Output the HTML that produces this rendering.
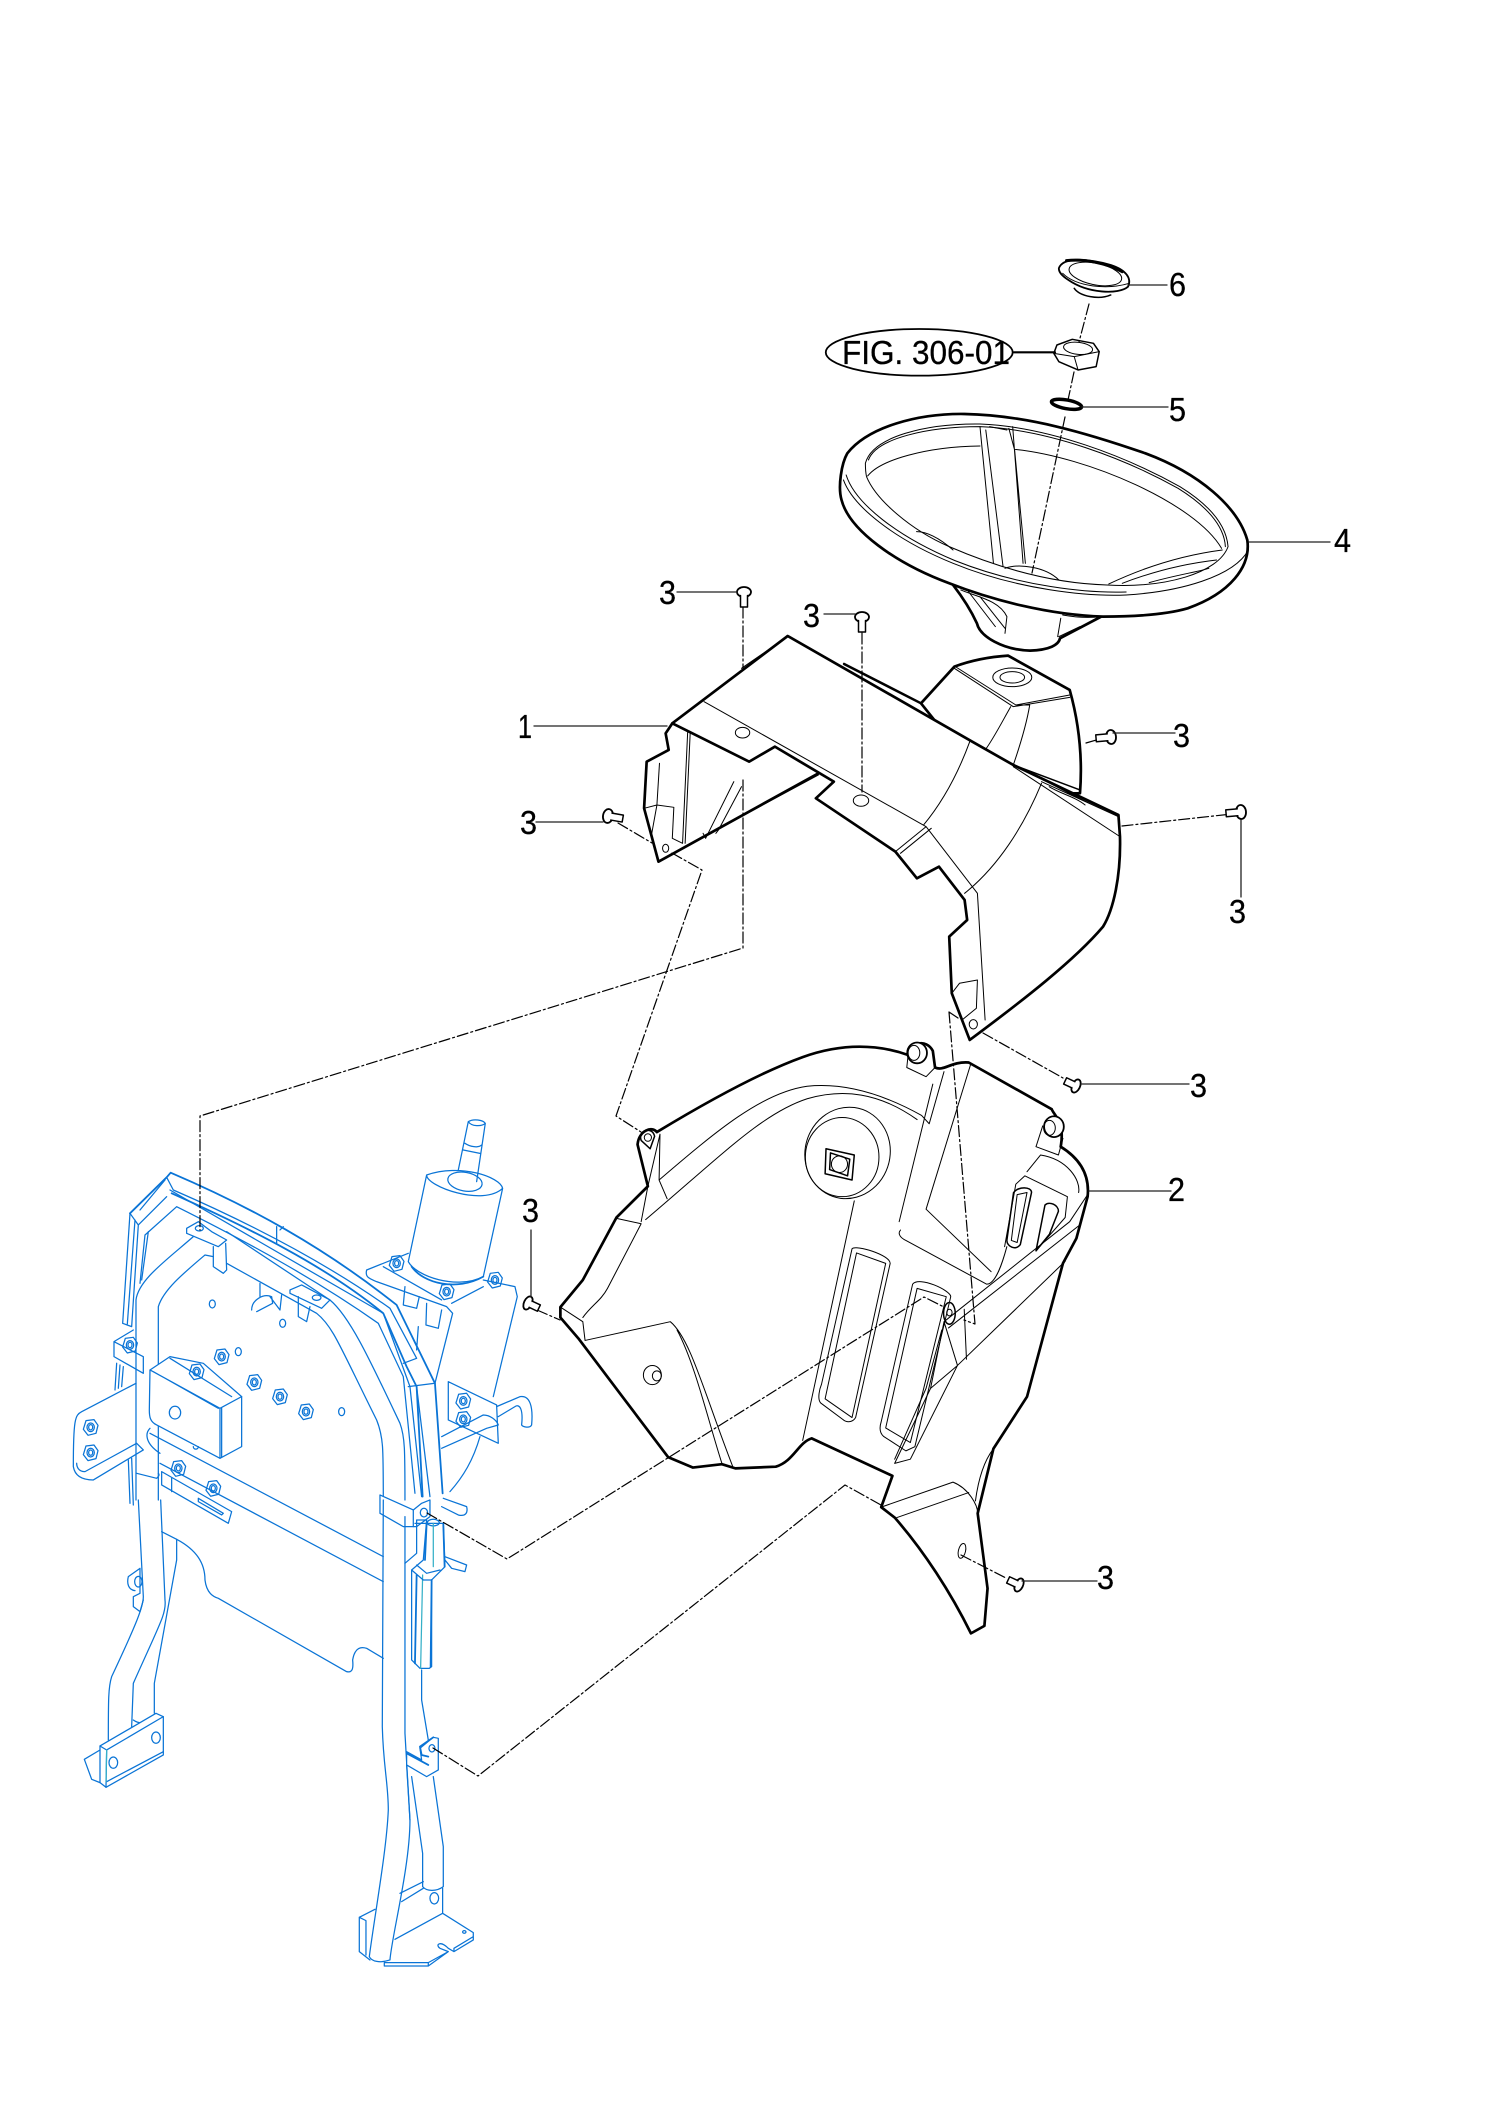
<!DOCTYPE html>
<html><head><meta charset="utf-8"><style>
html,body{margin:0;padding:0;background:#fff}
svg{display:block}
svg *{vector-effect:non-scaling-stroke;stroke-linejoin:round;stroke-linecap:round}
.k path,.k ellipse,.k circle,.k polygon{fill:none;stroke:#000;stroke-width:1}
.k .o{fill:#fff;stroke-width:2.7}
.k .m{stroke-width:1.5}
.k .w{fill:#fff}
.b path,.b ellipse,.b polygon,.b use{fill:none;stroke:#0a74d6;stroke-width:1.25}
.b .f{fill:#fff}
.b .t{stroke-width:1.8}
.b .c{stroke:#35b0c8}
.d{fill:none;stroke:#000;stroke-width:1.2;stroke-dasharray:11 3 2 3}
.l{fill:none;stroke:#222;stroke-width:1.3}
text{font-family:"Liberation Sans",sans-serif;fill:#000;font-size:33px;stroke:#000;stroke-width:.3}
</style></head><body>
<svg width="1500" height="2123" viewBox="0 0 1500 2123" xmlns="http://www.w3.org/2000/svg">
<defs>
<g id="n"><polygon points="-14,-20 10,-23 22,-6 16,18 -8,24 -22,6"/><ellipse rx="11" ry="13"/><ellipse rx="6" ry="8"/></g>
<g id="s"><ellipse cx="0" cy="0" rx="7" ry="5" fill="#fff" stroke="#000" stroke-width="1.8"/><path d="M-3.5,3.5 L-3.5,15 L3.5,15 L3.5,3.5" fill="#fff" stroke="#000" stroke-width="1.5"/></g>
</defs>

<!-- blue frame upper -->
<g class="b" transform="translate(50,1100) scale(.3333)">
<path class="f" d="M1130,225 L1075,485 C1100,530 1220,570 1300,530 L1358,265 C1350,230 1230,190 1130,225 C1130,260 1300,320 1358,265"/>
<path d="M1225,210 L1255,65 C1270,55 1300,60 1306,70 L1280,245 M1255,65 C1265,80 1295,80 1306,70 M1245,130 C1260,140 1285,145 1295,135 M1240,150 L1290,160"/>
<ellipse cx="1245" cy="245" rx="52" ry="28" transform="rotate(10 1245 245)"/>
<path class="t" d="M1085,500 C1120,550 1220,575 1300,530"/>
<path d="M950,510 C945,530 955,535 980,545 L1190,620 L1208,640 L1155,850 M950,510 L1075,460 M1000,500 L1175,600 M1300,540 L1395,560 L1402,590 L1330,890 M1205,610 L1300,560 M1065,560 L1060,615 L1100,625 L1108,590 M1130,610 L1128,675 L1165,685 L1175,630 M1105,680 L1100,750"/>
<path d="M1340,920 L1410,890 C1440,885 1450,920 1445,975 C1440,985 1420,982 1415,975 C1420,930 1410,910 1395,920 L1345,950 M1195,845 L1340,915 L1345,1030 L1195,960 Z M1175,1010 L1300,945 C1320,945 1340,960 1345,975 L1310,985 L1175,1045 M1290,1010 C1270,1080 1240,1130 1200,1175 M1180,1195 L1250,1220 C1255,1240 1245,1250 1225,1245 L1175,1220"/>
<use href="#n" x="1040" y="490"/><use href="#n" x="1190" y="575"/><use href="#n" x="1335" y="540"/><use href="#n" x="1240" y="903"/><use href="#n" x="1240" y="958"/>
<path d="M258,1200 L258,600 C265,540 350,480 430,410 M325,1200 L325,620 C340,570 400,520 465,465 L490,470 M530,490 L800,640 C850,680 870,740 980,960 C1000,1010 1000,1040 1000,1200 M530,395 L840,600 C900,650 960,780 1050,970 C1065,1010 1065,1050 1065,1200"/>
<path class="t" d="M240,340 L350,232 L362,218 C600,320 820,440 1040,615 L1155,850 L1178,1180"/>
<path d="M350,232 L370,270 C600,370 830,490 1020,625 L1100,775 M240,340 L218,670 L245,680 M265,375 L245,680 M240,340 L265,375 L350,290 M285,405 L380,320 C600,430 800,540 985,670 L1060,830 L1095,1180 M295,395 L275,540 M285,405 L270,550 M360,270 L1000,640 L1080,860 L1115,1190 M1100,775 L1060,790 M1075,860 L1155,850 M1100,860 L1140,1190 M255,360 L232,672 M345,240 L270,330"/>
<path class="t" d="M365,280 C600,385 830,500 1000,640 L1070,800 L1100,860 L1118,1190"/>
<path d="M680,380 L680,430 M690,390 L700,380"/>
<path class="f" d="M300,810 L360,770 L460,790 L575,890 L575,1040 L510,1075 L320,975 C300,965 298,950 298,930 Z"/>
<path d="M300,810 L510,925 L575,890 M510,925 L510,1075 M515,925 L515,1070 M310,815 L505,925 M360,775 L545,890 M430,1040 C430,1050 445,1050 445,1040"/>
<ellipse cx="375" cy="938" rx="17" ry="19"/>
<use href="#n" x="440" y="815"/><use href="#n" x="515" y="770"/><use href="#n" x="613" y="847"/><use href="#n" x="690" y="890"/><use href="#n" x="768" y="935"/><use href="#n" x="122" y="982"/><use href="#n" x="122" y="1058"/><use href="#n" x="385" y="1105"/><use href="#n" x="490" y="1165"/><use href="#n" x="240" y="735"/>
<ellipse cx="487" cy="612" rx="9" ry="12"/><ellipse cx="698" cy="670" rx="9" ry="12"/><ellipse cx="565" cy="755" rx="9" ry="12"/><ellipse cx="875" cy="935" rx="9" ry="12"/>
<path d="M258,850 L95,935 C75,945 70,960 70,1100 C75,1130 100,1140 130,1140 L280,1050 L260,1030 L105,1115 C85,1115 80,1100 80,1090 M192,725 L250,690 M192,725 L192,770 L280,820 L280,770 Z M200,790 L195,870 M210,795 L205,865 M220,800 L215,860 M235,1080 L240,1210 M245,1075 L250,1215 M260,1120 L320,1135 C325,1130 330,1125 325,1120"/>
<path d="M300,1000 L1000,1370 M330,1090 L1000,1445 M300,985 C285,1000 285,1030 330,1060"/>
<path class="f" d="M410,385 L445,365 L485,395 L530,420 L505,440 L410,400 Z"/>
<path d="M490,440 L490,500 L520,520 L530,510 L527,430 M720,570 L755,555 L840,600 L815,625 L720,580 Z M745,590 L745,650 L770,665 L780,620 M630,550 L630,590 M605,630 C605,600 640,580 665,590 L668,610 L620,635 M690,630 L695,585 M660,590 L690,630"/>
<ellipse cx="448" cy="385" rx="12" ry="8"/><ellipse cx="800" cy="593" rx="13" ry="8"/>
<path d="M335,1115 L545,1235 L535,1270 L335,1155 Z M445,1195 L520,1240 L515,1245 L445,1205 Z M365,1135 L365,1175"/>
<path class="f" d="M990,1185 L1090,1230 L1115,1210 L1140,1200 L1140,1250 L1100,1280 L1060,1280 L990,1240 Z"/>
<path d="M1090,1230 L1090,1280"/>
<ellipse cx="1122" cy="1238" rx="11" ry="13"/>
<ellipse cx="1150" cy="1268" rx="18" ry="10"/>
</g>

<!-- blue frame lower -->
<g class="b" transform="translate(50,1500) scale(.3333)">
<path d="M265,0 L280,290 C280,320 260,370 185,530 C175,560 175,600 175,720 M332,0 L345,300 C350,340 330,370 250,550 L245,680 M380,118 L380,180 L313,550 L313,640 M250,660 C270,675 300,670 313,645"/>
<path d="M235,230 L270,205 L270,280 L250,290 L250,320 L270,335 L280,300 M235,230 C230,250 235,270 255,272"/>
<ellipse cx="265" cy="245" rx="11" ry="16"/>
<path class="f" d="M150,738 L318,640 L340,650 L340,765 L168,862 L150,848 Z"/>
<path d="M150,738 L170,750 L168,862 M170,750 L340,650 M170,845 L340,755 M150,750 L103,778 L125,838 L150,848"/>
<path class="c" d="M170,750 L168,845"/>
<ellipse cx="190" cy="788" rx="13" ry="17"/><ellipse cx="318" cy="713" rx="13" ry="17"/>
<path d="M335,95 L380,118 C440,150 465,190 465,240 C470,280 490,290 505,295 L890,515 C910,520 910,500 908,480 C915,440 935,440 950,445 L1000,475"/>
<path d="M1000,0 L997,680 C1000,800 1015,850 1015,930 C1010,1050 975,1240 958,1370 C965,1385 990,1390 1020,1380 C1025,1310 1080,1100 1080,960 L1065,700 L1065,50"/>
<path d="M1115,510 L1115,600 L1135,720 M1150,830 L1180,1040 L1180,1160 C1160,1175 1130,1175 1118,1160 L1118,1060 L1085,830 M1070,795 L1080,960"/>
<path class="f" d="M1070,755 L1115,780 L1110,745 L1150,712 L1165,715 L1165,810 L1130,830 L1070,795 Z"/>
<ellipse cx="1146" cy="745" rx="9" ry="11"/>
<path class="t" d="M1110,740 L1150,712 M1110,740 L1115,765 L1135,770 M1070,760 L1135,795"/>
<path d="M1095,70 L1180,70 L1185,200 L1145,240 L1145,500 L1138,505 L1110,505 L1085,480 L1085,210 L1120,180 L1130,60 L1100,60 L1100,160 L1065,190"/>
<path class="t" d="M1130,70 L1125,180 M1180,70 L1184,200 M1100,225 L1095,490 M1145,240 L1142,500"/>
<path class="c" d="M1150,70 L1150,200 M1118,225 L1112,505"/>
<path d="M1085,210 L1120,240 L1145,240 M1100,195 L1130,220 L1170,210 M1185,170 L1250,195 L1245,215 L1205,205 L1185,180"/>
<path d="M928,1252 L928,1355 L960,1380 M928,1252 L948,1262 L948,1365 M928,1252 L975,1228 M1050,1180 L1120,1145 M1055,1205 L1120,1165 M1035,1318 L1178,1240 L1178,1165 M1178,1240 L1270,1298 L1270,1320 L1212,1355 L1195,1345 C1170,1320 1155,1335 1170,1345 L1195,1355 L1135,1398 L1003,1398 L1003,1388 M1135,1388 L1135,1398 M1003,1388 L1135,1388 L1195,1355 M1212,1345 L1270,1310 M1212,1345 L1212,1355"/>
<ellipse cx="1153" cy="1195" rx="13" ry="17"/><ellipse cx="1243" cy="1296" rx="5" ry="4"/>
</g>

<!-- wheel -->
<g class="k" transform="translate(780,230) scale(.3846,.3333)">
<path class="o" d="M450,1065 C480,1110 500,1150 512,1180 C520,1220 580,1260 650,1262 C700,1260 725,1245 728,1225 L835,1160 Z"/>
<path d="M470,1080 C510,1100 570,1110 590,1160 L585,1210 M490,1085 L560,1190 M520,1100 L585,1195 M730,1165 L722,1220 M735,1155 C760,1160 800,1165 830,1160 M725,1220 L780,1190"/>
<path class="o" d="M175,670 C230,590 360,550 480,552 C640,555 800,610 950,670 C1090,730 1190,830 1215,930 C1225,1010 1170,1090 1060,1135 C1000,1155 920,1160 840,1160 C700,1155 550,1110 440,1060 C300,1000 180,900 160,810 C150,770 160,700 175,670 Z"/>
<path d="M222,700 C240,620 380,580 520,582 C700,590 900,680 1040,770 C1110,820 1160,880 1165,950 C1140,1030 1000,1075 850,1065 C700,1060 560,1010 440,950 C340,900 250,810 225,740 C222,725 222,710 222,700 Z"/>
<path d="M230,690 C250,625 385,590 520,590 C700,598 900,688 1035,775 C1105,825 1155,885 1158,950"/>
<path d="M165,750 C190,830 300,930 450,1000 C620,1080 800,1100 900,1095 C1040,1085 1180,1040 1218,960 M172,735 C195,820 305,920 455,992 C625,1070 800,1090 900,1086"/>
<path d="M228,738 C260,690 380,650 520,648 M610,658 C800,680 1080,820 1148,955 M520,590 L525,650 L555,1000 M535,600 L580,1010 M545,590 L590,600 M595,595 L610,660 L638,1000 M605,590 L632,1000"/>
<path d="M585,1015 C620,1000 690,1010 725,1050 M855,1062 C950,1010 1050,975 1150,960 M890,1060 C980,1020 1060,1000 1135,990 M960,1058 C1030,1035 1090,1025 1115,1015 M355,905 C385,905 420,930 450,960"/>
<path class="o m" d="M765,175 C780,200 830,210 860,195"/>
<path class="o" d="M725,115 C735,80 800,85 860,105 C900,120 915,145 905,170 C880,195 800,190 750,150 C730,135 725,125 725,115 Z" style="stroke-width:1.8"/>
<path style="stroke-width:3" d="M745,92 C790,85 850,100 890,125"/>
<ellipse cx="820" cy="132" rx="70" ry="32" transform="rotate(14 820 132)"/>
<path d="M735,130 C770,170 850,180 908,160"/>
<polygon class="m" points="720,345 760,328 815,340 830,365 822,410 775,420 725,395 712,370"/>
<ellipse cx="775" cy="355" rx="38" ry="18" transform="rotate(8 775 355)"/>
<path d="M712,370 L765,380 L830,365 M765,380 L775,420"/>
<ellipse cx="745" cy="523" rx="40" ry="13" transform="rotate(12 745 523)" style="stroke-width:3.5"/>
<ellipse class="o" cx="362" cy="367" rx="243" ry="70" style="fill:none;stroke-width:1.8"/>
<path style="stroke-width:2.2" d="M608,367 L715,367"/>
</g>

<!-- part 1 -->
<g class="k" transform="translate(480,560) scale(.5128,.3333)">
<path class="o" d="M860,430 L925,320 C960,300 1000,290 1030,287 L1150,390 C1170,500 1175,600 1170,700 L1000,700 Z"/>
<path d="M925,318 L1045,435 L1150,405 M1045,435 L1072,435 M925,325 L1040,440 L1150,412 M1035,440 C1020,480 1000,540 985,570 M1072,435 C1065,500 1050,570 1040,615"/>
<ellipse cx="1038" cy="352" rx="38" ry="28"/><ellipse cx="1038" cy="352" rx="24" ry="17"/>
<path style="stroke-width:2.5" d="M710,312 L860,430"/>
<path class="o" d="M375,490 L362,520 L368,570 L325,605 L320,745 L348,905 L660,640 L660,400 Z"/>
<path d="M405,515 L395,850 M410,515 L400,850 M350,610 L345,735 M320,745 L345,735 L378,742 L375,835 L395,850 M345,735 L335,820 M495,665 L440,835 M510,680 L465,810 M440,835 L435,820 M465,810 L460,820 M370,885 L660,645"/>
<ellipse cx="362" cy="865" rx="6" ry="12"/>
<path class="o" d="M600,228 L960,545 L1040,615 L1245,765 L1248,830 C1250,950 1235,1050 1215,1100 C1160,1200 1060,1320 955,1440 L920,1300 L915,1130 L950,1080 L945,1020 L895,920 L852,955 L810,875 L655,715 L690,665 L575,560 L525,605 L375,490 Z"/>
<path d="M437,425 L870,800 L970,1000 L985,1380 M870,800 L810,875 M880,805 L820,880 M955,545 C930,650 900,730 865,795 M1095,670 C1060,800 1010,920 945,1000 M1040,620 L1248,830 M1095,665 L1245,770 M1040,615 C1080,640 1130,690 1210,745 M1110,680 C1130,700 1160,710 1180,735 M920,1300 L935,1270 L970,1260 L968,1345 L940,1380 M590,240 L510,325"/>
<ellipse cx="512" cy="518" rx="14" ry="16"/><ellipse cx="743" cy="722" rx="15" ry="17"/>
<ellipse cx="962" cy="1393" rx="8" ry="14"/>
<path style="stroke-width:1.5" d="M1040,615 L1170,690"/>
</g>

<!-- part 2 -->
<g class="k" transform="translate(520,1030) scale(.4487,.4167)">
<path class="o" d="M90,665 L140,600 L215,450 L285,375 L262,275 C265,240 295,230 305,245 C420,170 540,100 630,65 C720,30 800,35 865,60 C870,30 905,20 920,50 L925,90 C945,100 960,75 1000,78 L1185,190 C1190,205 1215,220 1205,280 C1250,310 1270,350 1265,400 L1240,500 L1210,560 L1175,700 L1130,880 L1055,1005 L1020,1160 L1042,1340 L1035,1430 L1005,1448 C960,1350 900,1250 835,1170 L805,1145 L830,1070 L650,980 C620,990 610,1035 570,1048 L480,1052 L450,1042 L385,1050 L330,1025 L130,740 L90,690 Z"/>
<path d="M90,665 L140,700 L145,745 L335,700 C380,740 410,870 475,1050 M350,720 C390,800 420,940 450,1040 M140,690 C160,660 180,650 195,620 L270,465 L215,452 M280,455 C450,300 540,200 640,165 C720,140 800,150 885,215 M328,405 L310,360 C440,240 540,150 640,135 C730,125 820,160 895,205 L912,225 L945,100 M270,460 L285,375 L312,250 L310,360"/>
<path d="M865,60 L862,90 L905,112 L925,90 M1165,230 L1150,280 L1200,300 L1210,260"/>
<ellipse cx="730" cy="295" rx="95" ry="110" transform="rotate(8 730 295)" class="w" style="stroke:#000"/>
<ellipse cx="718" cy="305" rx="82" ry="95"/>
<path class="m" d="M682,285 L745,300 L740,360 L680,345 Z M692,295 L735,310 L730,350 L690,335 Z"/>
<ellipse cx="712" cy="322" rx="18" ry="20"/>
<path d="M745,410 L630,985 M1005,80 L905,430 M920,130 L845,460 M848,480 C840,490 850,500 860,505 L1040,610 C1060,610 1075,560 1085,520 M905,430 L1050,580"/>
<path d="M740,525 C750,515 825,540 825,560 L748,930 C740,945 725,940 720,935 L670,895 C662,885 668,860 672,850 Z M750,535 L815,560 L740,930 L680,885 Z"/>
<path d="M875,610 C890,590 960,625 960,640 L880,1000 L860,1010 L810,975 C800,965 802,950 805,940 Z M885,620 L950,640 L870,990 L815,955 Z"/>
<path d="M1080,520 L1105,370 L1125,350 L1220,400 L1215,450 L1150,530 M1130,340 L1160,300 C1220,310 1250,360 1245,390"/>
<path class="m" d="M1100,390 C1110,375 1140,375 1140,390 L1115,515 C1105,530 1085,520 1085,505 Z"/>
<path d="M1108,395 L1130,390 L1108,510 L1095,505 Z"/>
<path class="m" d="M1170,420 C1180,410 1200,420 1200,435 L1180,490 L1150,530 Z"/>
<path d="M945,700 L1225,460 L1265,395 M955,715 L1245,470 M975,805 L1215,555 M945,700 L975,805 M990,670 L995,790 M975,805 L915,860 M945,700 L915,860 L835,1040 L870,1030 L975,805 M940,720 L905,860 L835,1030"/>
<path d="M805,1145 L965,1085 C1000,1100 1020,1140 1020,1160 M840,1170 L1000,1110 M1055,1005 C1030,1040 1020,1090 1015,1130"/>
<ellipse cx="985" cy="1250" rx="8" ry="18" transform="rotate(12 985 1250)"/>
<ellipse cx="295" cy="828" rx="20" ry="23"/><ellipse cx="305" cy="830" rx="10" ry="12"/>
<path style="stroke-width:1.5" d="M270,265 C262,240 295,230 300,255 L290,285 Z"/>
<ellipse cx="285" cy="258" rx="8" ry="9"/>
<ellipse class="w" style="stroke:#000;stroke-width:1.8" cx="885" cy="55" rx="22" ry="25"/><ellipse cx="878" cy="55" rx="13" ry="18"/>
<ellipse class="w" style="stroke:#000;stroke-width:1.8" cx="1190" cy="232" rx="22" ry="25"/><ellipse cx="1180" cy="235" rx="13" ry="18"/>
<ellipse cx="957" cy="680" rx="13" ry="26" style="stroke-width:1.5"/><ellipse cx="957" cy="678" rx="6" ry="8"/>
</g>

<!-- dashed connectors -->
<path class="d" d="M1089,304 L1079,342 M1074,372 L1068,400 M1065,417 L1032,573"/>
<path class="d" d="M743,607 L743,668 M743,780 L743,948 L200,1116 L200,1230"/>
<path class="d" d="M862,633 L862,792"/>
<path class="d" d="M618,823 L652,843 M672,853 L702,870 L616,1116 L641,1132"/>
<path class="d" d="M1086,743 L1100,739 M1122,826 L1232,814"/>
<path class="d" d="M983,1033 L1063,1078 M949,1012 L958,1018 M949,1012 L975,1324 L964,1320"/>
<path class="d" d="M537,1310 L560,1320"/>
<path class="d" d="M427,1513 L507,1559 L924,1297 L944,1307"/>
<path class="d" d="M433,1748 L478,1776 L845,1485 L881,1505"/>
<path class="d" d="M961,1555 L1006,1578"/>

<!-- screws -->
<use href="#s" transform="translate(744,592)"/>
<use href="#s" transform="translate(862,617)"/>
<use href="#s" transform="translate(608,816) rotate(-80)"/>
<use href="#s" transform="translate(1111,737) rotate(85)"/>
<use href="#s" transform="translate(1241,812) rotate(85)"/>
<use href="#s" transform="translate(1076,1086) rotate(115) scale(1,.8)"/>
<use href="#s" transform="translate(528,1303) rotate(-65) scale(1,.8)"/>
<use href="#s" transform="translate(1019,1585) rotate(115) scale(1,.8)"/>

<!-- leaders -->
<path class="l" d="M1128,285 L1167,285 M1082,407 L1168,407 M1249,542 L1330,542 M677,592 L737,592 M824,614 L855,614 M534,726 L667,726 M536,822 L603,822 M1113,733 L1175,733 M1241,820 L1241,897 M1081,1084 L1189,1084 M1089,1191 L1171,1191 M531,1230 L531,1297 M1022,1581 L1097,1581"/>

<!-- labels -->
<text x="1169" y="296" textLength="17" lengthAdjust="spacingAndGlyphs">6</text>
<text x="1169" y="421" textLength="17" lengthAdjust="spacingAndGlyphs">5</text>
<text x="1334" y="552" textLength="17" lengthAdjust="spacingAndGlyphs">4</text>
<text x="659" y="604" textLength="17" lengthAdjust="spacingAndGlyphs">3</text>
<text x="803" y="627" textLength="17" lengthAdjust="spacingAndGlyphs">3</text>
<text x="518" y="738" textLength="14" lengthAdjust="spacingAndGlyphs">1</text>
<text x="1173" y="747" textLength="17" lengthAdjust="spacingAndGlyphs">3</text>
<text x="520" y="834" textLength="17" lengthAdjust="spacingAndGlyphs">3</text>
<text x="1229" y="923" textLength="17" lengthAdjust="spacingAndGlyphs">3</text>
<text x="1190" y="1097" textLength="17" lengthAdjust="spacingAndGlyphs">3</text>
<text x="1168" y="1201" textLength="17" lengthAdjust="spacingAndGlyphs">2</text>
<text x="522" y="1222" textLength="17" lengthAdjust="spacingAndGlyphs">3</text>
<text x="1097" y="1589" textLength="17" lengthAdjust="spacingAndGlyphs">3</text>
<text x="842" y="364" textLength="168" lengthAdjust="spacingAndGlyphs">FIG. 306-01</text>
</svg>
</body></html>
